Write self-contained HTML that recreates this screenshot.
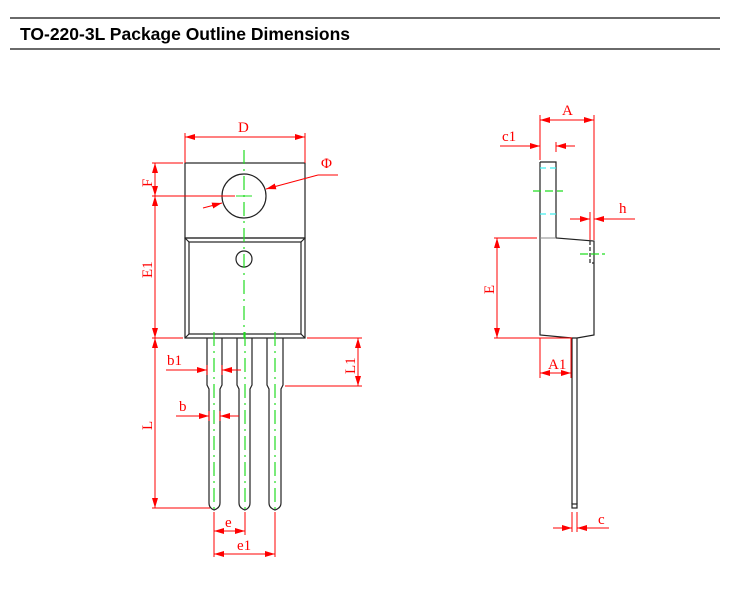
<!DOCTYPE html>
<html><head><meta charset="utf-8"><style>
html,body{margin:0;padding:0;background:#fff;width:737px;height:591px;overflow:hidden}
svg{display:block}
.r{stroke:#f00;stroke-width:1;fill:none}
.k{stroke:#222;stroke-width:1.2;fill:none}
.g{stroke:#2d2;stroke-width:1.2;fill:none;stroke-dasharray:14 5 2 5}
.t{fill:#f00;font-family:"Liberation Serif",serif;font-size:15px}
</style></head><body>
<svg width="737" height="591" viewBox="0 0 737 591" xmlns="http://www.w3.org/2000/svg">
<defs>
<marker id="a" viewBox="0 0 10 6" refX="10" refY="3" markerWidth="10" markerHeight="6" orient="auto-start-reverse" markerUnits="userSpaceOnUse"><path d="M0,0L10,3L0,6z" fill="#f00"/></marker>
</defs>
<line x1="10" y1="18" x2="720" y2="18" stroke="#111" stroke-width="1.3"/>
<line x1="10" y1="49" x2="720" y2="49" stroke="#111" stroke-width="1.3"/>
<text x="20" y="40" font-family="Liberation Sans,sans-serif" font-weight="bold" font-size="17.5" fill="#000">TO-220-3L Package Outline Dimensions</text>

<rect x="185" y="163" width="120" height="75" class="k"/>
<rect x="185" y="238" width="120" height="100" class="k" stroke-width="1.6"/>
<rect x="189" y="242" width="112" height="92" class="k"/>
<path d="M185,238L189,242M305,238L301,242M185,338L189,334M305,338L301,334" class="k"/>
<circle cx="244" cy="196" r="22" class="k"/>
<circle cx="244" cy="259" r="8" class="k"/>
<path d="M207,338V385L209,389V503Q209,508 214,510Q220,508 220,503V389L222,385V338" class="k"/>
<path d="M237,338V385L239,389V503Q239,508 245,510Q250,508 250,503V389L252,385V338" class="k"/>
<path d="M267,338V385L269,389V503Q269,508 275,510Q281,508 281,503V389L283,385V338" class="k"/>
<line x1="244" y1="150" x2="244" y2="338" class="g"/>
<line x1="236" y1="196" x2="252" y2="196" stroke="#2d2"/>
<line x1="214" y1="332" x2="214" y2="512" class="g"/>
<line x1="245" y1="332" x2="245" y2="512" class="g"/>
<line x1="275" y1="332" x2="275" y2="512" class="g"/>

<path d="M185,133V163M305,133V163" class="r"/>
<line x1="185" y1="137" x2="305" y2="137" class="r" marker-start="url(#a)" marker-end="url(#a)"/>
<text x="238" y="132" class="t">D</text>
<path d="M152,163H183M152,196H235M152,338H183" class="r"/>
<line x1="155" y1="163" x2="155" y2="196" class="r" marker-start="url(#a)" marker-end="url(#a)"/>
<line x1="155" y1="196" x2="155" y2="338" class="r" marker-start="url(#a)" marker-end="url(#a)"/>
<text transform="translate(152,187) rotate(-90)" class="t">F</text>
<text transform="translate(152,278) rotate(-90)" class="t">E1</text>
<line x1="203" y1="208" x2="222" y2="203" class="r" marker-end="url(#a)"/>
<line x1="318" y1="175" x2="266" y2="189" class="r" marker-end="url(#a)"/>
<path d="M318,175H338" class="r"/>
<text x="321" y="168" class="t" font-size="17">Φ</text>
<path d="M307,338H362M285,386H362" class="r"/>
<line x1="358" y1="338" x2="358" y2="386" class="r" marker-start="url(#a)" marker-end="url(#a)"/>
<text transform="translate(355,374) rotate(-90)" class="t">L1</text>
<path d="M152,508H210" class="r"/>
<line x1="155" y1="338" x2="155" y2="508" class="r" marker-start="url(#a)" marker-end="url(#a)"/>
<text transform="translate(152,430) rotate(-90)" class="t">L</text>
<line x1="166" y1="370" x2="207" y2="370" class="r" marker-end="url(#a)"/>
<line x1="241" y1="370" x2="222" y2="370" class="r" marker-end="url(#a)"/>
<path d="M207,365V375M222,365V375" class="r"/>
<text x="167" y="365" class="t">b1</text>
<line x1="176" y1="416" x2="209" y2="416" class="r" marker-end="url(#a)"/>
<line x1="239" y1="416" x2="220" y2="416" class="r" marker-end="url(#a)"/>
<path d="M209,411V421M220,411V421" class="r"/>
<text x="179" y="411" class="t">b</text>
<path d="M214,512V557M245,512V535M275,512V557" class="r"/>
<line x1="214" y1="531" x2="245" y2="531" class="r" marker-start="url(#a)" marker-end="url(#a)"/>
<line x1="214" y1="554" x2="275" y2="554" class="r" marker-start="url(#a)" marker-end="url(#a)"/>
<text x="225" y="527" class="t">e</text>
<text x="237" y="550" class="t">e1</text>

<path d="M540,162H556V238L594,241V335L577,338H572L540,335V162" class="k"/>
<path d="M540,238H556" stroke="#888"/>
<path d="M590,241V263H594" class="k" stroke-dasharray="4 2"/>
<path d="M572,338V504M577,338V504" class="k"/>
<rect x="572" y="504" width="5" height="4" class="k"/>
<path d="M540,168H556M540,214H556" stroke="#4ee" stroke-width="1.2" stroke-dasharray="6 4"/>
<path d="M533,191H563" stroke="#2d2" stroke-width="1.2" stroke-dasharray="8 4"/>
<path d="M580,254H605" stroke="#2d2" stroke-width="1.2" stroke-dasharray="8 3"/>
<path d="M540,115V160M594,115V240" class="r"/>
<line x1="540" y1="120" x2="594" y2="120" class="r" marker-start="url(#a)" marker-end="url(#a)"/>
<text x="562" y="115" class="t">A</text>
<line x1="500" y1="146" x2="540" y2="146" class="r" marker-end="url(#a)"/>
<line x1="575" y1="146" x2="556" y2="146" class="r" marker-end="url(#a)"/>
<path d="M556,142V152" class="r"/>
<text x="502" y="141" class="t">c1</text>
<line x1="570" y1="219" x2="590" y2="219" class="r" marker-end="url(#a)"/>
<line x1="635" y1="219" x2="594" y2="219" class="r" marker-end="url(#a)"/>
<path d="M590,212V240" class="r"/>
<text x="619" y="213" class="t">h</text>
<path d="M494,238H537M494,338H572" class="r"/>
<line x1="497" y1="238" x2="497" y2="338" class="r" marker-start="url(#a)" marker-end="url(#a)"/>
<text transform="translate(494,294) rotate(-90)" class="t">E</text>
<path d="M540,338V378M571,338V378" class="r"/>
<line x1="540" y1="373" x2="571" y2="373" class="r" marker-start="url(#a)" marker-end="url(#a)"/>
<text x="548" y="369" class="t">A1</text>
<path d="M572,512V532M577,512V532" class="r"/>
<line x1="553" y1="528" x2="572" y2="528" class="r" marker-end="url(#a)"/>
<line x1="609" y1="528" x2="577" y2="528" class="r" marker-end="url(#a)"/>
<text x="598" y="524" class="t">c</text>
</svg>
</body></html>
